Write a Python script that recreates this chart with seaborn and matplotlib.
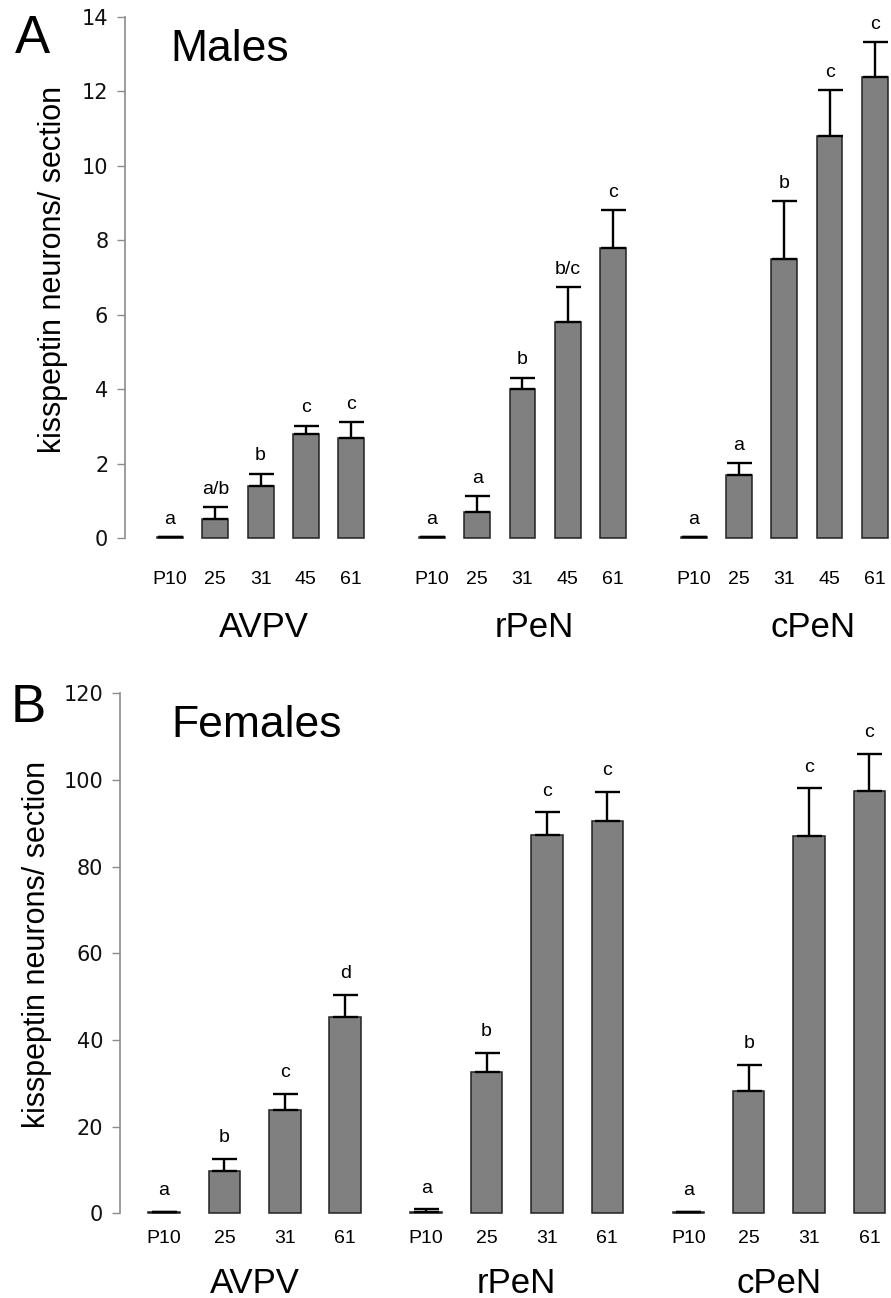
import numpy as np
import pandas as pd
import seaborn as sns
import matplotlib.pyplot as plt

regions = ['AVPV', 'rPeN', 'cPeN']

# panel A - males
male_ages = ['P10', '25', '31', '45', '61']
male_avpv = [0.02, 0.5, 1.4, 2.8, 2.7]
male_rpen = [0.02, 0.7, 4.0, 5.8, 7.8]
male_cpen = [0.02, 1.7, 7.5, 10.8, 12.4]
male_avpv_err = [0, 0.32, 0.33, 0.22, 0.42]
male_rpen_err = [0, 0.43, 0.31, 0.94, 1.02]
male_cpen_err = [0, 0.32, 1.55, 1.23, 0.93]
male_avpv_sig = ['a', 'a/b', 'b', 'c', 'c']
male_rpen_sig = ['a', 'a', 'b', 'b/c', 'c']
male_cpen_sig = ['a', 'a', 'b', 'c', 'c']

# panel B - females
female_ages = ['P10', '25', '31', '61']
female_avpv = [0.3, 9.8, 23.9, 45.4]
female_rpen = [0.4, 32.7, 87.4, 90.5]
female_cpen = [0.3, 28.3, 87.1, 97.4]
female_avpv_err = [0, 2.7, 3.6, 5.0]
female_rpen_err = [0.5, 4.4, 5.1, 6.8]
female_cpen_err = [0, 5.9, 11.0, 8.6]
female_avpv_sig = ['a', 'b', 'c', 'd']
female_rpen_sig = ['a', 'b', 'c', 'c']
female_cpen_sig = ['a', 'b', 'c', 'c']

sns.set_style('white')
plt.rcParams['font.family'] = ['Liberation Sans', 'DejaVu Sans']
plt.rcParams['text.color'] = 'black'
plt.rcParams['xtick.labelcolor'] = 'black'
plt.rcParams['ytick.labelcolor'] = '#111111'

W, H = 891, 1298
fig = plt.figure(figsize=(W / 100, H / 100), dpi=100)
ax_a = fig.add_axes([125 / W, 1 - 538 / H, 1 - 125 / W, (538 - 17) / H])
ax_b = fig.add_axes([120 / W, 1 - 1213.3 / H, 1 - 120 / W, (1213.3 - 693.3) / H])


def panel(ax, ages, means, errs, sigs, stride, width, ymax, ystep, xlim,
          tickpad, sig_off, label_y, label_dx):
    rows = []
    for g, region in enumerate(regions):
        for i, age in enumerate(ages):
            rows.append({'region': region, 'age': age, 'pos': g * stride + i,
                         'mean': means[g][i], 'err': errs[g][i], 'sig': sigs[g][i]})
    df = pd.DataFrame(rows)

    sns.barplot(data=df, x='pos', y='mean', native_scale=True, width=width,
                color='#808080', saturation=1, edgecolor='#222222', linewidth=1.1,
                errorbar=None, ax=ax)
    for p in ax.patches:
        p.set_clip_on(False)

    eb = ax.errorbar(df['pos'], df['mean'], yerr=[np.zeros(len(df)), df['err']],
                     fmt='none', ecolor='black', elinewidth=1.7, capsize=9, capthick=1.7)
    for a in eb.get_children():
        a.set_clip_on(False)

    for _, r in df.iterrows():
        ax.annotate(r['sig'], (r['pos'], r['mean'] + r['err']), xytext=(0, sig_off),
                    textcoords='offset points', ha='center', va='baseline',
                    fontsize=14, color='black', annotation_clip=False)

    for g, region in enumerate(regions):
        ax.text(g * stride + (len(ages) - 1) / 2 + label_dx[g], label_y, region,
                transform=ax.get_xaxis_transform(), ha='center', va='baseline',
                fontsize=25, color='black')

    ax.set_ylim(0, ymax)
    ax.set_xlim(*xlim)
    ax.set_yticks(np.arange(0, ymax + 1, ystep))
    ax.set_xticks(df['pos'])
    ax.set_xticklabels(df['age'])
    ax.set_xlabel('')
    ax.set_ylabel('')
    sns.despine(ax=ax, bottom=True)
    ax.spines['left'].set_color('#8c8c8c')
    ax.spines['left'].set_linewidth(1.2)
    ax.tick_params(axis='y', direction='out', length=6, width=1, color='#8c8c8c',
                   pad=6, labelsize=15, left=True)
    ax.tick_params(axis='x', length=0, pad=tickpad, labelsize=14)
    for lab in ax.get_yticklabels():
        lab.set_fontfamily('DejaVu Sans')


panel(ax_a, male_ages,
      [male_avpv, male_rpen, male_cpen],
      [male_avpv_err, male_rpen_err, male_cpen_err],
      [male_avpv_sig, male_rpen_sig, male_cpen_sig],
      stride=5.78, width=0.57, ymax=14, ystep=2,
      xlim=((125 - 170) / 45.3, (891 - 170) / 45.3),
      tickpad=24, sig_off=9.5, label_y=-0.19, label_dx=[0.07, 0.26, 0.64])

panel(ax_b, female_ages,
      [female_avpv, female_rpen, female_cpen],
      [female_avpv_err, female_rpen_err, female_cpen_err],
      [female_avpv_sig, female_rpen_sig, female_cpen_sig],
      stride=4.34, width=0.52, ymax=120, ystep=20,
      xlim=((120 - 164) / 60.4, (891 - 164) / 60.4),
      tickpad=12, sig_off=12, label_y=-0.154, label_dx=[0, 0, 0])

ylab = 'kisspeptin neurons/ section'
fig.text(53 / W, 1 - 269 / H, ylab, rotation=90, ha='center', va='center', fontsize=22)
fig.text(37 / W, 1 - 944 / H, ylab, rotation=90, ha='center', va='center', fontsize=22)

fig.text(15 / W, 1 - 53 / H, 'A', fontsize=38, va='baseline', ha='left')
fig.text(170 / W, 1 - 61 / H, 'Males', fontsize=32, va='baseline', ha='left')
fig.text(11 / W, 1 - 722 / H, 'B', fontsize=38, va='baseline', ha='left')
fig.text(171 / W, 1 - 737 / H, 'Females', fontsize=32, va='baseline', ha='left')

fig.savefig('out.png', dpi=100)
